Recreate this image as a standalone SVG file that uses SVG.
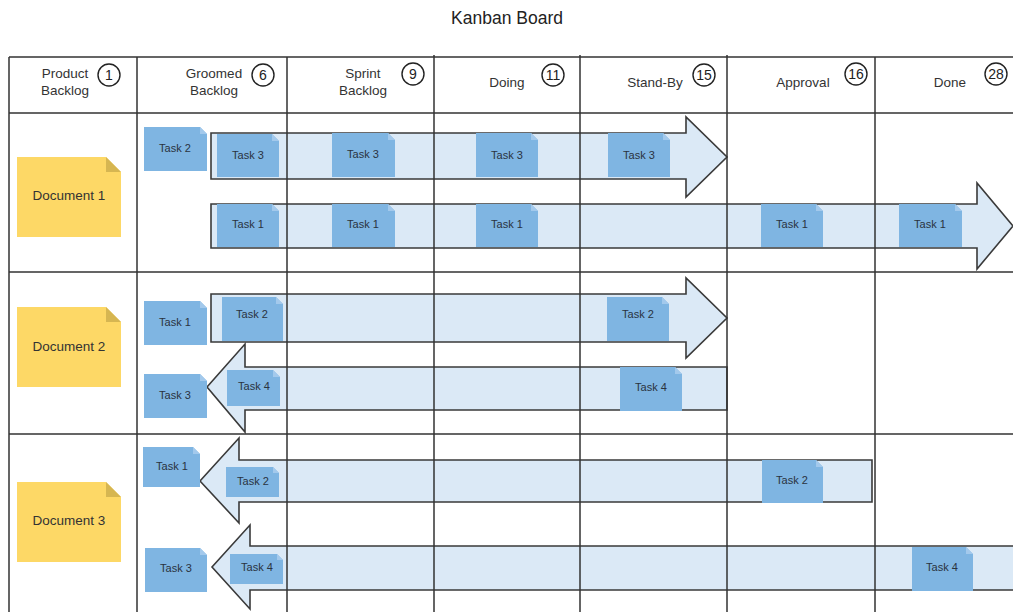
<svg xmlns="http://www.w3.org/2000/svg" width="1013" height="612" viewBox="0 0 1013 612">
  <style>
    .title { font: 17.5px "Liberation Sans", Arial, sans-serif; fill: #222; text-anchor: middle; }
    .hdr { font: 13.5px "Liberation Sans", Arial, sans-serif; fill: #333; text-anchor: middle; }
    .num { font: 14px "Liberation Sans", Arial, sans-serif; fill: #222; text-anchor: middle; }
    .badge { fill: #fff; stroke: #222; stroke-width: 1.4; }
    .grid { fill: none; stroke: #333; stroke-width: 1.5; }
    .flow { fill: #dbe9f6; stroke: #3a3a3a; stroke-width: 1.6; stroke-linejoin: miter; }
    .doc { fill: #fdd866; }
    .docfold { fill: #d6b651; }
    .doclbl { font: 13.5px "Liberation Sans", Arial, sans-serif; fill: #333; text-anchor: middle; }
    .task { fill: #7fb5e2; }
    .taskfold { fill: #a3c9ec; }
    .tasklbl { font: 11px "Liberation Sans", Arial, sans-serif; fill: #2a3340; text-anchor: middle; }
  </style>

  <rect width="1013" height="612" fill="#fff"/>
  <text class="title" x="507" y="24">Kanban Board</text>

  <!-- flow arrows carrying tasks across the columns -->
  <g id="connectors">
    <path class="flow" d="M211,133 H686 V117 L727,157 L686,197 V179 H211 Z"/>
    <path class="flow" d="M211,204 H977 V183 L1013,226 L977,269 V248 H211 Z"/>
    <path class="flow" d="M211,294 H686 V278 L727,318 L686,358 V342 H211 Z"/>
    <path class="flow" d="M727,367 H245 V344 L207,387 L245,432 V410 H727 Z"/>
    <path class="flow" d="M872,460 H239 V438 L200,481 L239,523 V502 H872 Z"/>
    <path class="flow" d="M1020,546 H250 V525 L212,567 L250,609 V590 H1020 Z"/>
  </g>

  <!-- board grid -->
  <g id="board">
    <path class="grid" d="M9,57 H1013 M9,113 H1013 M9,272 H1013 M9,434 H1013"/>
    <path class="grid" d="M9,57 V612 M137,57 V612 M287,57 V612 M434,55 V612 M580,55 V612 M727,55 V612 M875,57 V612"/>
  </g>

  <!-- column headers -->
  <g id="col-product">
    <text class="hdr" x="65" y="78">Product</text>
    <text class="hdr" x="65" y="95">Backlog</text>
    <circle class="badge" cx="109" cy="75" r="11"/>
    <text class="num" x="109" y="80">1</text>
  </g>
  <g id="col-groomed">
    <text class="hdr" x="214" y="78">Groomed</text>
    <text class="hdr" x="214" y="95">Backlog</text>
    <circle class="badge" cx="263" cy="75" r="11"/>
    <text class="num" x="263" y="80">6</text>
  </g>
  <g id="col-sprint">
    <text class="hdr" x="363" y="78">Sprint</text>
    <text class="hdr" x="363" y="95">Backlog</text>
    <circle class="badge" cx="413" cy="74" r="11"/>
    <text class="num" x="413" y="79">9</text>
  </g>
  <g id="col-doing">
    <text class="hdr" x="507" y="87">Doing</text>
    <circle class="badge" cx="553" cy="75" r="11"/>
    <text class="num" x="553" y="80">11</text>
  </g>
  <g id="col-standby">
    <text class="hdr" x="655" y="87">Stand-By</text>
    <circle class="badge" cx="704" cy="75" r="11"/>
    <text class="num" x="704" y="80">15</text>
  </g>
  <g id="col-approval">
    <text class="hdr" x="803" y="87">Approval</text>
    <circle class="badge" cx="856" cy="74" r="11"/>
    <text class="num" x="856" y="79">16</text>
  </g>
  <g id="col-done">
    <text class="hdr" x="950" y="87">Done</text>
    <circle class="badge" cx="996" cy="74" r="11"/>
    <text class="num" x="996" y="79">28</text>
  </g>

  <!-- documents -->
  <g id="document-1">
    <path class="doc" d="M17,157 H106 L121,172 V237 H17 Z"/>
    <path class="docfold" d="M106,157 L121,172 H106 Z"/>
    <text class="doclbl" x="69" y="200">Document 1</text>
  </g>
  <g id="document-2">
    <path class="doc" d="M17,307 H106 L121,322 V387 H17 Z"/>
    <path class="docfold" d="M106,307 L121,322 H106 Z"/>
    <text class="doclbl" x="69" y="351">Document 2</text>
  </g>
  <g id="document-3">
    <path class="doc" d="M17,482 H106 L121,497 V562 H17 Z"/>
    <path class="docfold" d="M106,482 L121,497 H106 Z"/>
    <text class="doclbl" x="69" y="525">Document 3</text>
  </g>

  <!-- task cards: note shape with folded top-right corner -->
  <g id="d1-task2" transform="translate(144,127)">
    <path class="task" d="M0,0 H56 L63,7 V44 H0 Z"/><path class="taskfold" d="M56,0 L63,7 H56 Z"/>
    <text class="tasklbl" x="31" y="25">Task 2</text>
  </g>
  <g id="d1-task3-groomed" transform="translate(217,134)">
    <path class="task" d="M0,0 H55 L62,7 V43 H0 Z"/><path class="taskfold" d="M55,0 L62,7 H55 Z"/>
    <text class="tasklbl" x="31" y="25">Task 3</text>
  </g>
  <g id="d1-task3-sprint" transform="translate(332,133)">
    <path class="task" d="M0,0 H56 L63,7 V44 H0 Z"/><path class="taskfold" d="M56,0 L63,7 H56 Z"/>
    <text class="tasklbl" x="31" y="25">Task 3</text>
  </g>
  <g id="d1-task3-doing" transform="translate(476,133)">
    <path class="task" d="M0,0 H55 L62,7 V44 H0 Z"/><path class="taskfold" d="M55,0 L62,7 H55 Z"/>
    <text class="tasklbl" x="31" y="26">Task 3</text>
  </g>
  <g id="d1-task3-standby" transform="translate(608,133)">
    <path class="task" d="M0,0 H55 L62,7 V44 H0 Z"/><path class="taskfold" d="M55,0 L62,7 H55 Z"/>
    <text class="tasklbl" x="31" y="26">Task 3</text>
  </g>
  <g id="d1-task1-groomed" transform="translate(217,204)">
    <path class="task" d="M0,0 H55 L62,7 V43 H0 Z"/><path class="taskfold" d="M55,0 L62,7 H55 Z"/>
    <text class="tasklbl" x="31" y="24">Task 1</text>
  </g>
  <g id="d1-task1-sprint" transform="translate(332,204)">
    <path class="task" d="M0,0 H56 L63,7 V43 H0 Z"/><path class="taskfold" d="M56,0 L63,7 H56 Z"/>
    <text class="tasklbl" x="31" y="24">Task 1</text>
  </g>
  <g id="d1-task1-doing" transform="translate(476,204)">
    <path class="task" d="M0,0 H55 L62,7 V43 H0 Z"/><path class="taskfold" d="M55,0 L62,7 H55 Z"/>
    <text class="tasklbl" x="31" y="24">Task 1</text>
  </g>
  <g id="d1-task1-approval" transform="translate(761,204)">
    <path class="task" d="M0,0 H55 L62,7 V43 H0 Z"/><path class="taskfold" d="M55,0 L62,7 H55 Z"/>
    <text class="tasklbl" x="31" y="24">Task 1</text>
  </g>
  <g id="d1-task1-done" transform="translate(899,204)">
    <path class="task" d="M0,0 H56 L63,7 V43 H0 Z"/><path class="taskfold" d="M56,0 L63,7 H56 Z"/>
    <text class="tasklbl" x="31" y="24">Task 1</text>
  </g>

  <g id="d2-task1" transform="translate(144,301)">
    <path class="task" d="M0,0 H56 L63,7 V44 H0 Z"/><path class="taskfold" d="M56,0 L63,7 H56 Z"/>
    <text class="tasklbl" x="31" y="25">Task 1</text>
  </g>
  <g id="d2-task2-groomed" transform="translate(222,297)">
    <path class="task" d="M0,0 H54 L61,7 V44 H0 Z"/><path class="taskfold" d="M54,0 L61,7 H54 Z"/>
    <text class="tasklbl" x="30" y="21">Task 2</text>
  </g>
  <g id="d2-task2-standby" transform="translate(607,297)">
    <path class="task" d="M0,0 H55 L62,7 V44 H0 Z"/><path class="taskfold" d="M55,0 L62,7 H55 Z"/>
    <text class="tasklbl" x="31" y="21">Task 2</text>
  </g>
  <g id="d2-task3" transform="translate(144,374)">
    <path class="task" d="M0,0 H56 L63,7 V44 H0 Z"/><path class="taskfold" d="M56,0 L63,7 H56 Z"/>
    <text class="tasklbl" x="31" y="25">Task 3</text>
  </g>
  <g id="d2-task4-groomed" transform="translate(227,370)">
    <path class="task" d="M0,0 H46 L53,7 V36 H0 Z"/><path class="taskfold" d="M46,0 L53,7 H46 Z"/>
    <text class="tasklbl" x="27" y="20">Task 4</text>
  </g>
  <g id="d2-task4-standby" transform="translate(620,367)">
    <path class="task" d="M0,0 H55 L62,7 V44 H0 Z"/><path class="taskfold" d="M55,0 L62,7 H55 Z"/>
    <text class="tasklbl" x="31" y="24">Task 4</text>
  </g>

  <g id="d3-task1" transform="translate(143,447)">
    <path class="task" d="M0,0 H50 L57,7 V40 H0 Z"/><path class="taskfold" d="M50,0 L57,7 H50 Z"/>
    <text class="tasklbl" x="29" y="23">Task 1</text>
  </g>
  <g id="d3-task2-groomed" transform="translate(226,467)">
    <path class="task" d="M0,0 H47 L53,6 V30 H0 Z"/><path class="taskfold" d="M47,0 L53,6 H47 Z"/>
    <text class="tasklbl" x="27" y="18">Task 2</text>
  </g>
  <g id="d3-task2-approval" transform="translate(762,460)">
    <path class="task" d="M0,0 H54 L61,7 V43 H0 Z"/><path class="taskfold" d="M54,0 L61,7 H54 Z"/>
    <text class="tasklbl" x="30" y="24">Task 2</text>
  </g>
  <g id="d3-task3" transform="translate(145,548)">
    <path class="task" d="M0,0 H55 L62,7 V44 H0 Z"/><path class="taskfold" d="M55,0 L62,7 H55 Z"/>
    <text class="tasklbl" x="31" y="24">Task 3</text>
  </g>
  <g id="d3-task4-groomed" transform="translate(230,554)">
    <path class="task" d="M0,0 H47 L53,6 V30 H0 Z"/><path class="taskfold" d="M47,0 L53,6 H47 Z"/>
    <text class="tasklbl" x="27" y="17">Task 4</text>
  </g>
  <g id="d3-task4-done" transform="translate(912,547)">
    <path class="task" d="M0,0 H54 L61,7 V44 H0 Z"/><path class="taskfold" d="M54,0 L61,7 H54 Z"/>
    <text class="tasklbl" x="30" y="24">Task 4</text>
  </g>
</svg>
